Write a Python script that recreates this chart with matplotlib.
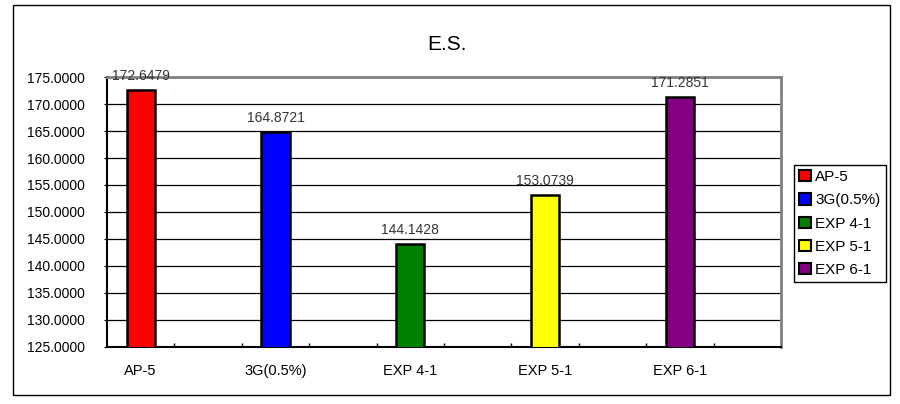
import matplotlib
matplotlib.use("Agg")
import matplotlib.pyplot as plt
from matplotlib.patches import Patch, Rectangle

plt.rcParams['font.family'] = ['Liberation Sans', 'DejaVu Sans']

# data
categories = ["AP-5", "3G(0.5%)", "EXP 4-1", "EXP 5-1", "EXP 6-1"]
values = [172.6479, 164.8721, 144.1428, 153.0739, 171.2851]
colors = ["#FF0000", "#0000FF", "#008000", "#FFFF00", "#800080"]
y_ticks = [125, 130, 135, 140, 145, 150, 155, 160, 165, 170, 175]

fig = plt.figure(figsize=(9, 4.04), dpi=100)
ax = fig.add_axes([0.1189, 0.1411, 0.7489, 0.6683])

x = list(range(len(categories)))
ax.bar(x, values, width=0.21, color=colors, edgecolor="black", linewidth=1.8, zorder=3)

for xi, v in zip(x, values):
    ax.annotate(f"{v:.4f}", (xi, v), xytext=(0, 5), textcoords="offset points",
                ha="center", va="bottom", fontsize=10, color="#333333", zorder=4)

ax.set_xlim(-0.25, 4.75)
ax.set_ylim(125, 175)
ax.set_yticks(y_ticks)
ax.set_yticklabels([f"{t:.4f}" for t in y_ticks], fontsize=10)
ax.set_xticks(x)
ax.set_xticklabels(categories, fontsize=10.5)
ax.set_xticks([0.25 + 0.5 * k for k in range(9)], minor=True)
ax.tick_params(axis="x", which="major", length=0, pad=12)
ax.tick_params(axis="x", which="minor", direction="in", length=3, width=1)
ax.tick_params(axis="y", length=2, pad=14)

for t in y_ticks[1:-1]:
    ax.axhline(t, color="black", linewidth=0.9, zorder=1)

ax.spines["left"].set_color("black")
ax.spines["bottom"].set_color("black")
ax.spines["left"].set_linewidth(1.5)
ax.spines["bottom"].set_linewidth(1.5)
ax.spines["top"].set_color("#808080")
ax.spines["right"].set_color("#808080")
ax.spines["top"].set_linewidth(2)
ax.spines["right"].set_linewidth(2)

fig.text(0.497, 0.889, "E.S.", ha="center", va="center", fontsize=15)

handles = [Patch(facecolor=c, edgecolor="black", linewidth=1.5) for c in colors]
leg = fig.legend(handles, categories, loc="upper left", bbox_to_anchor=(0.882, 0.592),
                 borderaxespad=0, fontsize=11, fancybox=False, edgecolor="black",
                 handlelength=0.75, handleheight=0.75, handletextpad=0.3,
                 labelspacing=0.6, borderpad=0.35, framealpha=1)
leg.get_frame().set_linewidth(1)

# outer chart border
fig.patches.append(Rectangle((13 / 900, 1 - 395 / 404), 877 / 900, 390 / 404,
                             transform=fig.transFigure, fill=False,
                             edgecolor="black", linewidth=1))

fig.savefig("out.png", dpi=100)
